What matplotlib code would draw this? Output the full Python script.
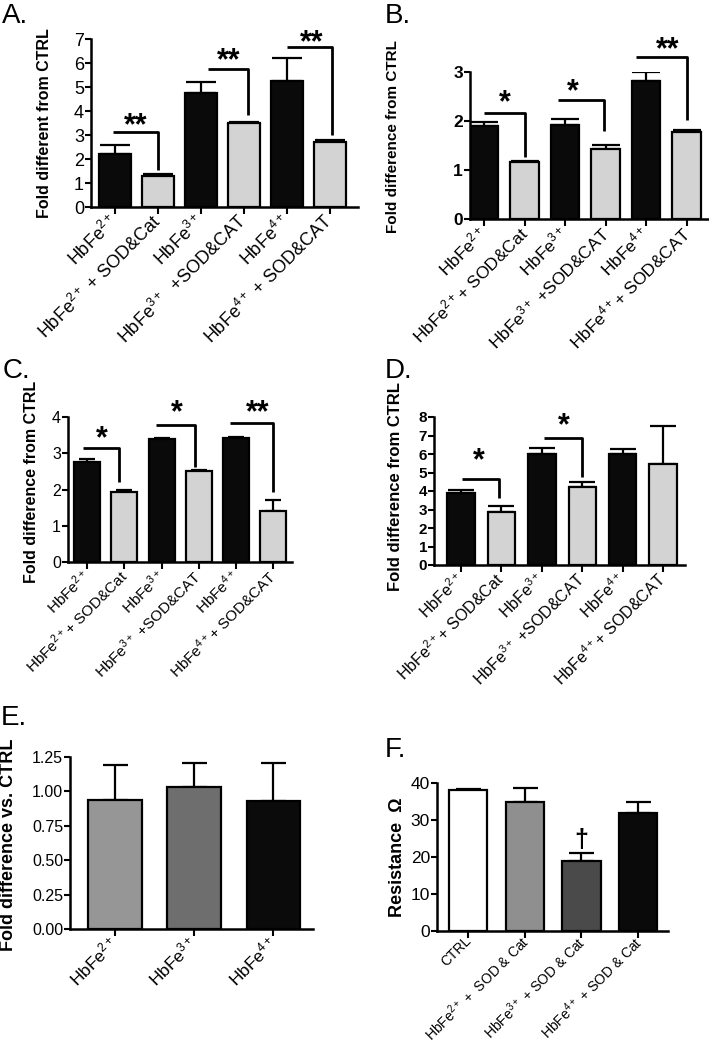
import numpy as np
import matplotlib
matplotlib.use("Agg")
import matplotlib.pyplot as plt

plt.rcParams['font.family'] = ['Liberation Sans', 'DejaVu Sans']
plt.rcParams['mathtext.fontset'] = 'custom'
plt.rcParams['mathtext.rm'] = 'Liberation Sans'
plt.rcParams['mathtext.bf'] = 'Liberation Sans:bold'
plt.rcParams['mathtext.default'] = 'regular'

# ---- data ----
a_labels = ["HbFe$^{2+}$", "HbFe$^{2+}$ + SOD&Cat", "HbFe$^{3+}$",
            "HbFe$^{3+}$  +SOD&CAT", "HbFe$^{4+}$", "HbFe$^{4+}$ + SOD&CAT"]
a_vals = [2.2, 1.3, 4.75, 3.5, 5.25, 2.7]
a_err = [0.38, 0.07, 0.47, 0.05, 0.95, 0.1]

bcd_labels = ["HbFe$^{2+}$", "HbFe$^{2+}$+ SOD&Cat", "HbFe$^{3+}$",
              "HbFe$^{3+}$ +SOD&CAT", "HbFe$^{4+}$", "HbFe$^{4+}$+ SOD&CAT"]
b_vals = [1.9, 1.17, 1.92, 1.43, 2.82, 1.77]
b_err = [0.07, 0.01, 0.13, 0.09, 0.18, 0.04]

c_vals = [2.75, 1.92, 3.4, 2.52, 3.42, 1.42]
c_err = [0.08, 0.06, 0.02, 0.01, 0.02, 0.28]

d_vals = [3.9, 2.87, 6.02, 4.2, 6.0, 5.45]
d_err = [0.17, 0.33, 0.28, 0.3, 0.27, 2.05]

e_labels = ["HbFe$^{2+}$", "HbFe$^{3+}$", "HbFe$^{4+}$"]
e_vals = [0.94, 1.03, 0.93]
e_err = [0.25, 0.18, 0.28]

f_labels = ["CTRL", "HbFe$^{2+}$ +  SOD & Cat", "HbFe$^{3+}$ + SOD & Cat",
            "HbFe$^{4+}$ + SOD & Cat"]
f_vals = [38, 35, 19, 32]
f_err = [0.5, 3.7, 2.0, 3.0]

# significance brackets: (x start, x end, y top, y end, text, text x, text y)
a_sig = [(-0.05, 1.0, 3.12, 1.55, '**', 0.49, 3.58),
         (2.15, 3.1, 5.75, 3.83, '**', 2.65, 6.3),
         (4.0, 5.05, 6.68, 2.98, '**', 4.58, 7.05)]
b_sig = [(0.0, 1.0, 2.17, 1.27, '*', 0.52, 2.47),
         (1.83, 2.95, 2.43, 1.8, '*', 2.2, 2.7),
         (3.74, 5.02, 3.3, 2.03, '**', 4.54, 3.55)]
c_sig = [(-0.1, 0.86, 3.14, 2.2, '*', 0.4, 3.53),
         (1.85, 2.9, 3.78, 2.62, '*', 2.42, 4.25),
         (3.84, 5.0, 3.83, 1.93, '**', 4.57, 4.25)]
d_sig = [(0.02, 0.94, 4.65, 3.6, '*', 0.45, 5.9),
         (2.05, 3.0, 6.85, 4.75, '*', 2.55, 7.8)]

BLACK = '#0a0a0a'
LGRAY = '#d3d3d3'

W, H = 709, 1046
fig = plt.figure(figsize=(W / 100, H / 100), dpi=100)


def make_axes(left, right, top, bottom):
    return fig.add_axes([left / W, 1 - bottom / H, (right - left) / W, (bottom - top) / H])


def panel(ax, vals, err, colors, labels, xlim, ylim, yticks, width, capsize,
          ylabel, ylab_pos, ytick_fs, xtick_fs, ytick_bold=False, ytick_fmt=None,
          xpad=3, xva='center'):
    x = np.arange(len(vals))
    ax.errorbar(x, vals, yerr=[np.zeros(len(err)), err], fmt='none', ecolor='black',
                elinewidth=1.6, capsize=capsize, capthick=1.6, zorder=1)
    ax.bar(x, vals, width=width, color=colors, edgecolor='black', linewidth=1.6, zorder=2)
    ax.set_xlim(*xlim)
    ax.set_ylim(*ylim)
    ax.set_yticks(yticks)
    if ytick_fmt:
        ax.set_yticklabels([ytick_fmt.format(t) for t in yticks])
    ax.set_xticks(x)
    ax.set_xticklabels(labels, rotation=45, ha='right', va=xva, rotation_mode='anchor',
                       fontsize=xtick_fs)
    for t in ax.get_yticklabels():
        t.set_fontsize(ytick_fs)
        if ytick_bold:
            t.set_fontweight('bold')
    for s in ['top', 'right']:
        ax.spines[s].set_visible(False)
    for s in ['left', 'bottom']:
        ax.spines[s].set_linewidth(1.8)
    ax.tick_params(axis='y', direction='out', length=4, width=1.5, pad=1)
    ax.tick_params(axis='x', direction='out', length=5, width=1.5, pad=xpad)
    ax.set_ylabel(ylabel, fontweight='bold', fontsize=ylab_pos[2])
    ax.yaxis.label.set_verticalalignment('center')
    ax.yaxis.set_label_coords(ylab_pos[0], ylab_pos[1])
    ax.set_facecolor('none')


def brackets(ax, sigs, fs):
    for x0, x1, yt, ye, txt, tx, ty in sigs:
        ax.plot([x0, x1, x1], [yt, yt, ye], color='black', lw=2, clip_on=False,
                solid_capstyle='butt')
        ax.annotate(txt, xy=(tx, ty), xytext=(0, -0.43 * fs), textcoords='offset points',
                    ha='center', va='baseline', fontsize=fs, fontweight='bold',
                    annotation_clip=False)


six_colors = [BLACK, LGRAY] * 3

# A
axA = make_axes(91, 358, 39, 207)
panel(axA, a_vals, a_err, six_colors, a_labels, (-0.56, 5.65), (0, 7), range(8), 0.74, 10.5,
      "Fold different from CTRL", ((45 - 91) / 267, 0.5, 11.5), 13, 13)
brackets(axA, a_sig, 22)

# B
axB = make_axes(470, 708, 72, 219)
panel(axB, b_vals, b_err, six_colors, bcd_labels, (-0.35, 5.53), (0, 3), range(4), 0.7, 10,
      "Fold difference from CTRL", ((393 - 470) / 238, 0.56, 11), 12.5, 12.5, ytick_bold=True)
brackets(axB, b_sig, 22)

# C
axC = make_axes(68, 292, 417, 562)
panel(axC, c_vals, c_err, six_colors, bcd_labels, (-0.51, 5.5), (0, 4), range(5), 0.7, 6,
      "Fold difference from CTRL", ((32 - 68) / 224, 0.55, 11.5), 11.5, 11)
brackets(axC, c_sig, 22)

# D
axD = make_axes(434, 685, 417, 565)
panel(axD, d_vals, d_err, six_colors, bcd_labels, (-0.67, 5.54), (0, 8), range(9), 0.68, 9.5,
      "Fold difference from CTRL", ((395 - 434) / 251, 0.53, 12), 11, 11.5, ytick_bold=True)
brackets(axD, d_sig, 22)

# E
axE = make_axes(70, 313, 757, 929)
panel(axE, e_vals, e_err, ['#969696', '#6e6e6e', '#0b0b0b'], e_labels, (-0.57, 2.5),
      (0, 1.25), [0, 0.25, 0.5, 0.75, 1.0, 1.25], 0.68, 9,
      "Fold difference vs. CTRL", ((9 - 70) / 243, 0.49, 13), 11.5, 12.5, ytick_fmt="{:.2f}")

# F
axF = make_axes(437, 668, 783, 931)
panel(axF, f_vals, f_err, ['#ffffff', '#8f8f8f', '#4a4a4a', BLACK], f_labels, (-0.55, 3.53),
      (0, 40), [0, 10, 20, 30, 40], 0.68, 9,
      "Resistance  \u03a9", ((397 - 437) / 231, 0.5, 13), 12.5, 10, xpad=0, xva='center_baseline')
axF.annotate('\u2020', xy=(2, 24.5), ha='center', va='center', fontsize=18, fontweight='bold')

# panel letters
for letter, px, py in [("A.", 2, 23), ("B.", 385, 23), ("C.", 3, 378),
                       ("D.", 385, 378), ("E.", 1, 725), ("F.", 385, 757)]:
    fig.text(px / W, 1 - py / H, letter, fontsize=20, ha='left', va='baseline')

fig.savefig("out.png", dpi=100)
